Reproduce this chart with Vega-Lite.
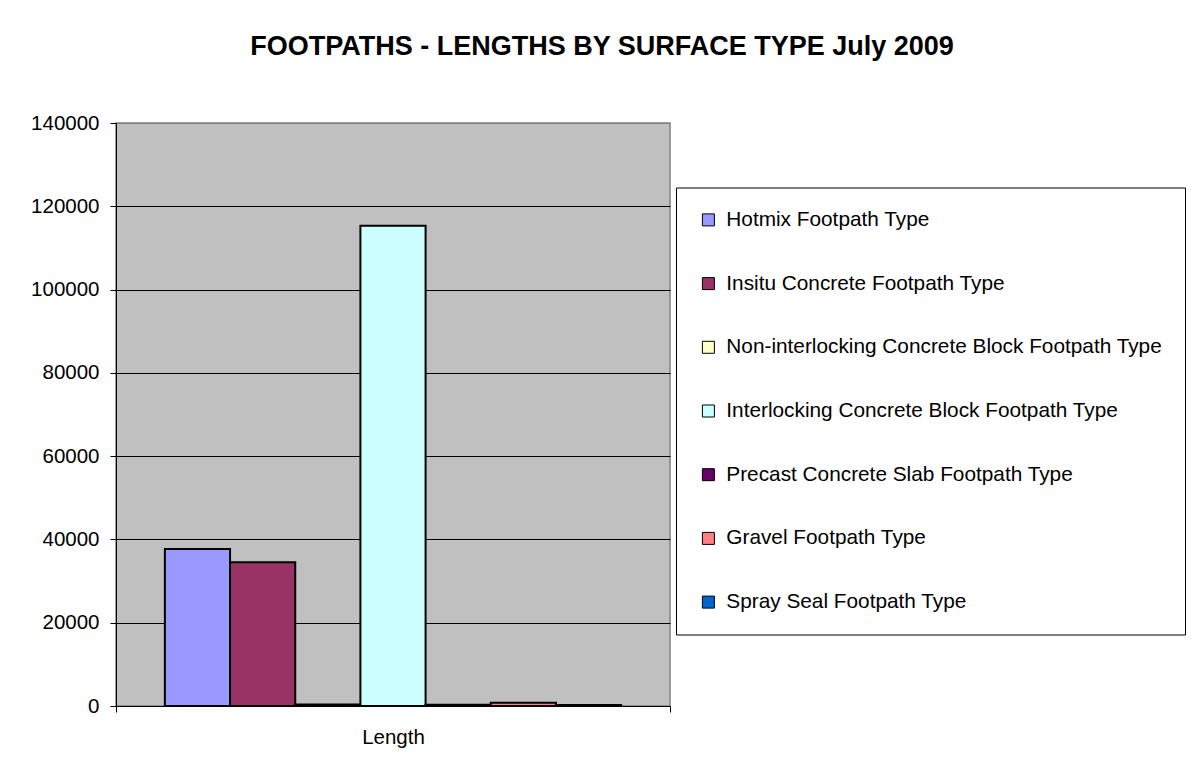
{
  "$schema": "https://vega.github.io/schema/vega-lite/v6.json",
  "autosize": {"type": "none"},
  "width": 554,
  "height": 583,
  "padding": {"left": 116, "top": 123, "right": 525, "bottom": 70},
  "background": "white",
  "title": {
    "text": "FOOTPATHS - LENGTHS BY SURFACE TYPE July 2009",
    "font": "Liberation Sans",
    "fontSize": 27,
    "fontWeight": "bold",
    "color": "black",
    "anchor": "middle",
    "frame": "group",
    "baseline": "alphabetic",
    "dx": 209,
    "dy": -31,
    "offset": 0
  },
  "data": {
    "values": [
      {"measure": "Length", "type": "Hotmix Footpath Type", "length": 37700},
      {"measure": "Length", "type": "Insitu Concrete Footpath Type", "length": 34500},
      {"measure": "Length", "type": "Non-interlocking Concrete Block Footpath Type", "length": 350},
      {"measure": "Length", "type": "Interlocking Concrete Block Footpath Type", "length": 115300},
      {"measure": "Length", "type": "Precast Concrete Slab Footpath Type", "length": 300},
      {"measure": "Length", "type": "Gravel Footpath Type", "length": 800},
      {"measure": "Length", "type": "Spray Seal Footpath Type", "length": 250}
    ]
  },
  "mark": {"type": "bar", "stroke": "black", "strokeWidth": 2},
  "encoding": {
    "x": {
      "field": "measure",
      "type": "nominal",
      "scale": {"paddingInner": 0, "paddingOuter": 0},
      "axis": {
        "title": null,
        "labelAngle": 0,
        "tickBand": "extent",
        "tickSize": 6,
        "tickColor": "black",
        "domainColor": "black",
        "labelBaseline": "alphabetic",
        "labelPadding": 31,
        "labelFont": "Liberation Sans",
        "labelFontSize": 20.5,
        "labelColor": "black",
        "grid": false
      }
    },
    "xOffset": {
      "field": "type",
      "type": "nominal",
      "sort": [
        "Hotmix Footpath Type",
        "Insitu Concrete Footpath Type",
        "Non-interlocking Concrete Block Footpath Type",
        "Interlocking Concrete Block Footpath Type",
        "Precast Concrete Slab Footpath Type",
        "Gravel Footpath Type",
        "Spray Seal Footpath Type"
      ],
      "scale": {"paddingInner": 0, "paddingOuter": 0.75}
    },
    "y": {
      "field": "length",
      "type": "quantitative",
      "scale": {"domain": [0, 140000], "nice": false},
      "axis": {
        "title": null,
        "values": [0, 20000, 40000, 60000, 80000, 100000, 120000, 140000],
        "format": "d",
        "grid": true,
        "gridColor": {"condition": {"test": "datum.value === 140000", "value": "#808080"}, "value": "black"},
        "gridWidth": 1,
        "domainColor": "black",
        "tickColor": "black",
        "tickSize": 6,
        "labelPadding": 11,
        "labelFont": "Liberation Sans",
        "labelFontSize": 20.5,
        "labelColor": "black"
      }
    },
    "color": {
      "field": "type",
      "type": "nominal",
      "scale": {
        "domain": [
          "Hotmix Footpath Type",
          "Insitu Concrete Footpath Type",
          "Non-interlocking Concrete Block Footpath Type",
          "Interlocking Concrete Block Footpath Type",
          "Precast Concrete Slab Footpath Type",
          "Gravel Footpath Type",
          "Spray Seal Footpath Type"
        ],
        "range": ["#9999FF", "#993366", "#FFFFCC", "#CCFFFF", "#660066", "#FF8080", "#0066CC"]
      },
      "legend": {
        "orient": "none",
        "legendX": 560,
        "legendY": 64.5,
        "title": null,
        "symbolType": "square",
        "symbolSize": 144,
        "symbolStrokeColor": "black",
        "symbolStrokeWidth": 1,
        "symbolOpacity": 1,
        "labelFont": "Liberation Sans",
        "labelFontSize": 20.8,
        "labelColor": "black",
        "labelOffset": 7.5,
        "labelLimit": 600,
        "rowPadding": 41.7,
        "padding": 22,
        "strokeColor": "black",
        "fillColor": "white"
      }
    }
  },
  "config": {
    "view": {"fill": "#C0C0C0", "stroke": "#808080", "strokeWidth": 1.5}
  }
}
